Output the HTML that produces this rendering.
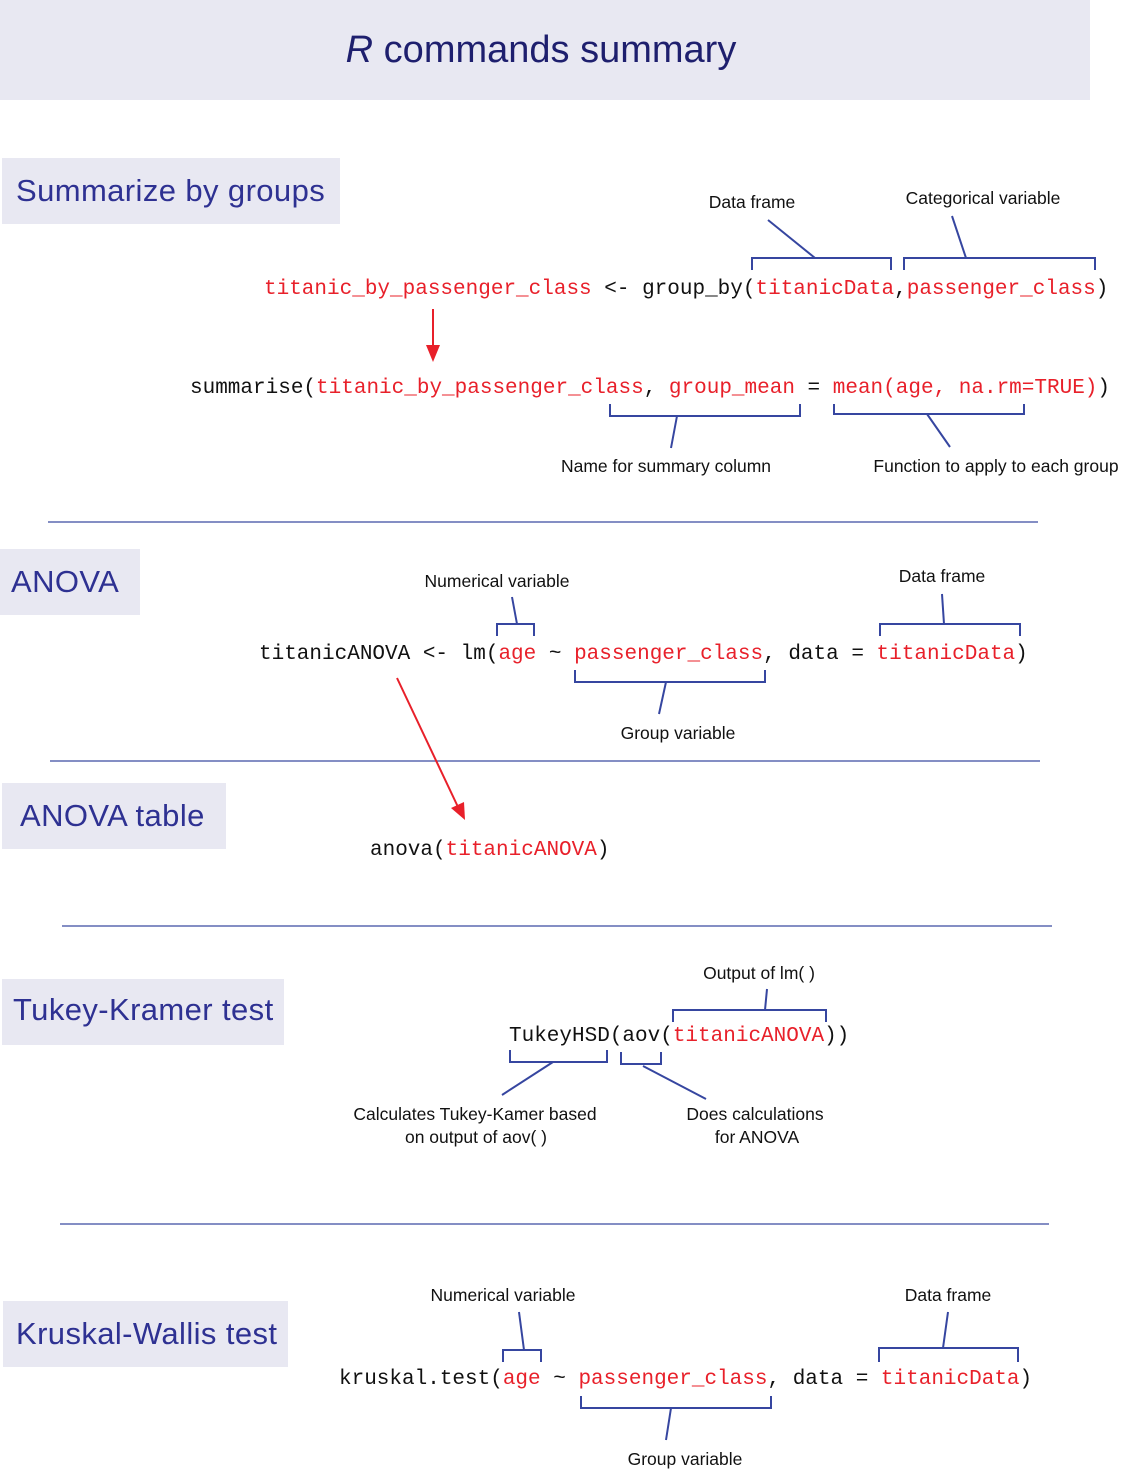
<!DOCTYPE html>
<html><head><meta charset="utf-8"><style>
html,body{margin:0;padding:0;background:#fff;}
svg{display:block;}
.code{font-family:"Liberation Mono",monospace;font-size:21px;fill:#111;}
.r{fill:#e8202a;}
.lab{font-family:"Liberation Sans",sans-serif;font-size:17.5px;fill:#111;text-anchor:middle;}
.hd{font-family:"Liberation Sans",sans-serif;font-size:31px;letter-spacing:0.4px;fill:#2e3192;}
.br{fill:none;stroke:#3646a0;stroke-width:2;}
.dv{stroke:#3a4aa0;stroke-width:1.2;}
</style></head><body>
<svg width="1122" height="1470" viewBox="0 0 1122 1470" xmlns="http://www.w3.org/2000/svg">
<rect x="0" y="0" width="1090" height="100" fill="#e8e8f2"/>
<text x="541" y="62" text-anchor="middle" font-family="Liberation Sans, sans-serif" font-size="38" fill="#1e1f6e"><tspan font-style="italic">R</tspan> commands summary</text>

<rect x="2" y="158" width="338" height="66" fill="#e8e8f2"/>
<text class="hd" x="16" y="201">Summarize by groups</text>
<rect x="0" y="549" width="140" height="66" fill="#e8e8f2"/>
<text class="hd" x="11" y="592">ANOVA</text>
<rect x="2" y="783" width="224" height="66" fill="#e8e8f2"/>
<text class="hd" x="20" y="826">ANOVA table</text>
<rect x="2" y="979" width="282" height="66" fill="#e8e8f2"/>
<text class="hd" x="13" y="1020">Tukey-Kramer test</text>
<rect x="3" y="1301" width="285" height="66" fill="#e8e8f2"/>
<text class="hd" x="16" y="1344">Kruskal-Wallis test</text>

<line class="dv" x1="48" y1="522" x2="1038" y2="522"/>
<line class="dv" x1="50" y1="761" x2="1040" y2="761"/>
<line class="dv" x1="62" y1="926" x2="1052" y2="926"/>
<line class="dv" x1="60" y1="1224" x2="1049" y2="1224"/>

<text class="code" x="264" y="294" xml:space="preserve"><tspan class="r">titanic_by_passenger_class</tspan> &lt;- group_by(<tspan class="r">titanicData</tspan>,<tspan class="r">passenger_class</tspan>)</text>
<text class="code" x="190" y="393" xml:space="preserve">summarise(<tspan class="r">titanic_by_passenger_class</tspan>, <tspan class="r">group_mean</tspan> = <tspan class="r">mean(age, na.rm=TRUE)</tspan>)</text>
<text class="code" x="259" y="659" xml:space="preserve">titanicANOVA &lt;- lm(<tspan class="r">age</tspan> ~ <tspan class="r">passenger_class</tspan>, data = <tspan class="r">titanicData</tspan>)</text>
<text class="code" x="370" y="855" xml:space="preserve">anova(<tspan class="r">titanicANOVA</tspan>)</text>
<text class="code" x="509" y="1041" xml:space="preserve">TukeyHSD(aov(<tspan class="r">titanicANOVA</tspan>))</text>
<text class="code" x="339" y="1384" xml:space="preserve">kruskal.test(<tspan class="r">age</tspan> ~ <tspan class="r">passenger_class</tspan>, data = <tspan class="r">titanicData</tspan>)</text>

<text class="lab" x="752" y="208">Data frame</text>
<text class="lab" x="983" y="204">Categorical variable</text>
<text class="lab" x="666" y="472">Name for summary column</text>
<text class="lab" x="996" y="472">Function to apply to each group</text>
<text class="lab" x="497" y="587">Numerical variable</text>
<text class="lab" x="942" y="582">Data frame</text>
<text class="lab" x="678" y="739">Group variable</text>
<text class="lab" x="759" y="979">Output of lm( )</text>
<text class="lab" x="475" y="1120">Calculates Tukey-Kamer based</text>
<text class="lab" x="476" y="1143">on output of aov( )</text>
<text class="lab" x="755" y="1120">Does calculations</text>
<text class="lab" x="757" y="1143">for ANOVA</text>
<text class="lab" x="503" y="1301">Numerical variable</text>
<text class="lab" x="948" y="1301">Data frame</text>
<text class="lab" x="685" y="1465">Group variable</text>

<path class="br" d="M752,270 V258 H891 V270 M815,258 L768,220"/>
<path class="br" d="M904,270 V258 H1095 V270 M966,258 L952,216"/>
<path class="br" d="M610,404 V416 H800 V404 M677,416 L671,448"/>
<path class="br" d="M834,404 V414 H1024 V404 M927,414 L950,447"/>
<path class="br" d="M497,636 V624 H534 V636 M517,624 L512,597"/>
<path class="br" d="M880,636 V624 H1020 V636 M944,624 L942,594"/>
<path class="br" d="M575,670 V682 H765 V670 M666,682 L659,714"/>
<path class="br" d="M673,1022 V1010 H826 V1022 M765,1010 L767,989"/>
<path class="br" d="M510,1050 V1062 H607 V1050 M553,1062 L502,1095"/>
<path class="br" d="M621,1052 V1064 H661 V1052 M643,1066 L706,1099"/>
<path class="br" d="M503,1362 V1350 H541 V1362 M524,1350 L519,1312"/>
<path class="br" d="M879,1362 V1348 H1018 V1362 M943,1348 L948,1312"/>
<path class="br" d="M581,1396 V1408 H771 V1396 M671,1408 L666,1440"/>

<line x1="433" y1="309" x2="433" y2="348" stroke="#e8202a" stroke-width="2"/>
<polygon points="426,345 440,345 433,362" fill="#e8202a"/>
<line x1="397" y1="678" x2="458" y2="807" stroke="#e8202a" stroke-width="2"/>
<polygon points="451,808 464,802 465,820" fill="#e8202a"/>
</svg>
</body></html>
